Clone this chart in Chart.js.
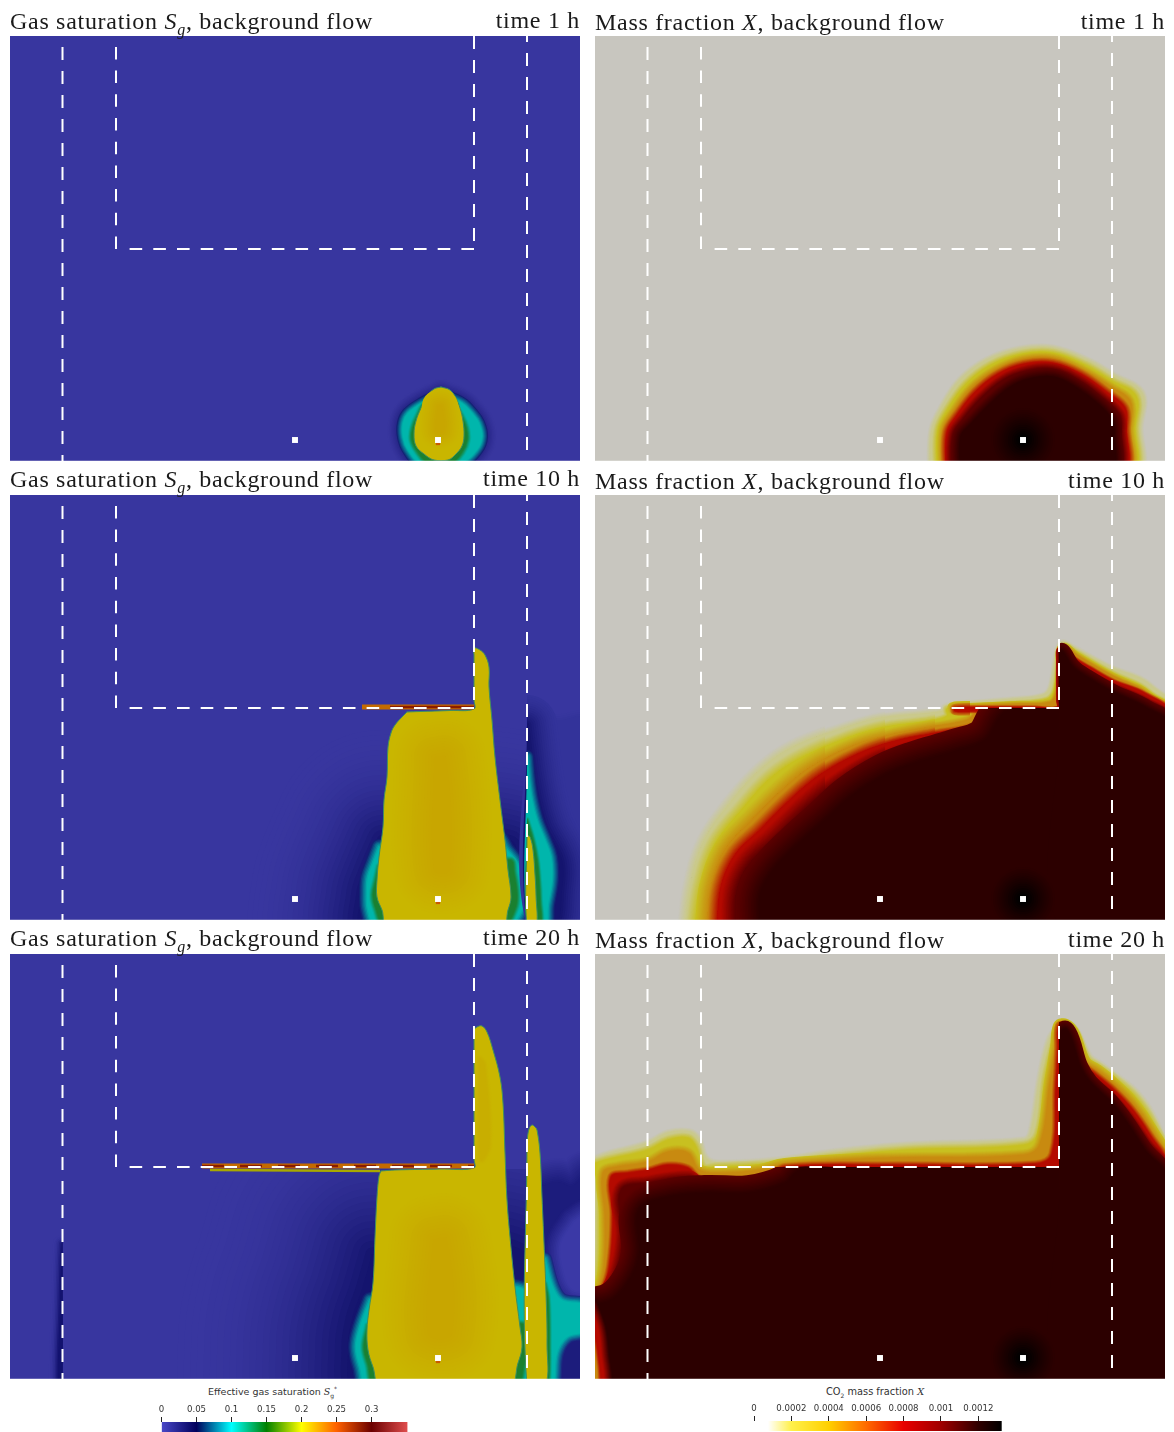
<!DOCTYPE html>
<html><head><meta charset="utf-8">
<script src="https://cdn.jsdelivr.net/npm/chart.js@4"></script>
<style>
html,body{margin:0;padding:0;background:#fff;width:1174px;height:1432px;overflow:hidden}
canvas{position:absolute;display:block}
.t{position:absolute;white-space:nowrap;font-family:"Liberation Serif",serif;font-size:24px;line-height:28px;color:#1a1a1a;letter-spacing:.7px}
.t sub{font-size:16px;line-height:0;font-style:italic}
.c{position:absolute;white-space:nowrap;font-family:"DejaVu Sans",sans-serif;line-height:12px;color:#333;text-align:center}
.c i{font-family:"DejaVu Serif",serif}
.c sub,.c sup{font-size:6px;line-height:0}
</style></head><body>
<canvas id="s1" width="570" height="425" style="left:10px;top:36px"></canvas>
<canvas id="m1" width="570" height="425" style="left:595px;top:36px"></canvas>
<canvas id="s10" width="570" height="425" style="left:10px;top:495px"></canvas>
<canvas id="m10" width="570" height="425" style="left:595px;top:495px"></canvas>
<canvas id="s20" width="570" height="425" style="left:10px;top:954px"></canvas>
<canvas id="m20" width="570" height="425" style="left:595px;top:954px"></canvas>
<canvas id="cbS" width="400" height="32" style="left:100px;top:1400px"></canvas>
<canvas id="cbM" width="400" height="32" style="left:700px;top:1399px"></canvas>
<div class="c" style="left:208px;top:1386px;font-size:9.5px">Effective gas saturation <i>S</i><sub>g</sub><sup>*</sup></div>
<div class="c" style="left:826px;top:1386px;font-size:9.8px">CO<sub>2</sub> mass fraction <i>X</i></div>
<script>
// ---- titles
const times = ['time 1 h','time 10 h','time 20 h'];
const satTitleTops = [7,465,924];
const massTitleTops = [8,467,926];
// ---- barriers and wells (x along the domain, y depth from top of panel)
const dashFull1 = [[52.5,11],[52.5,425]];
const dashFull2 = [[517,-7],[517,425]];
const dashBoxLeft = [[106,213],[106,0]];
const dashBoxRight = [[464,0],[464,213]];
const dashBoxBottom = [[464,213],[118,213]];
const wells = [[285,404],[428,404]];
const injector = [[428,404]];
const injectorMark = [[428,407]];
// ---- gas saturation, 1 h
const s1Halo = [[431,358],[452,367],[462,377],[469,387],[472,401],[467,414],[452,426],[410,426],[398,414],[393,401],[393,387],[398,377],[412,367]];
const s1Green = [[443,368],[451,380],[456,392],[457,404],[452,416],[442,426],[418,426],[408,416],[402,404],[403,392],[408,380],[416,368]];
const s1Plume = [[431,351],[440,354],[446,362],[450,372],[453,385],[454,400],[452,410],[446,418],[438,424],[424,424],[414,418],[406,410],[404,398],[406,385],[411,372],[417,360],[424,353]];
const s1Core = [[428,370],[432,370],[434,395],[426,395]];
// ---- gas saturation, 10 h
const s10Broad = [[372,345],[357,380],[351,400],[353,432],[500,432],[505,380],[500,345]];
const s10Halo = [[369,352],[363,368],[358,382],[357,398],[358,415],[365,428],[500,428],[512,415],[515,398],[513,382],[507,368],[497,355],[485,340]];
const s10Green = [[369,372],[366,385],[363,400],[366,414],[374,428],[495,428],[505,414],[507,400],[504,378],[500,365]];
const s10Plume = [[397,217],[393,221],[385,230],[381,238],[378,252],[377,282],[374,305],[373,332],[369,362],[367,385],[367,402],[372,415],[378,432],[492,432],[498,415],[501,402],[498,375],[495,345],[490,305],[485,262],[482,225],[479,192],[479,172],[475,160],[470,155],[464,153],[464,160],[464,205],[464,214],[440,215.5],[410,216.5]];
const s10Core = [[424,262],[436,262],[440,375],[424,375]];
const s10Lamina = [[352,212],[464,212]];
const s10LaminaDark = [[380,212],[464,212]];
const s10RightFaint = [[517,212],[545,225],[576,225],[576,432],[517,432]];
const s10RightNavy = [[517,230],[525,290],[535,330],[552,365],[552,395],[545,432],[517,432]];
const s10RightHalo = [[517,262],[519,285],[522,305],[527,325],[535,345],[541,362],[542,385],[538,410],[535,432],[517,432]];
const s10RightGreen = [[517,325],[523,345],[527,365],[529,385],[530,405],[530,432],[517,432]];
const s10RightPlume = [[517,340],[520,342],[523,355],[525,380],[526,400],[526,432],[517,432]];
// ---- gas saturation, 20 h
const s20Broad = [[362,300],[352,335],[342,365],[338,395],[345,432],[517,432],[517,300]];
const s20Halo = [[360,346],[350,373],[346,393],[350,413],[358,432],[520,432],[520,345],[505,333]];
const s20Green = [[358,372],[354,393],[358,410],[366,432],[505,432],[514,410],[516,393],[513,370]];
const s20Plume = [[371,217],[369,222],[367,243],[365,283],[363,329],[359,356],[357,376],[358,396],[363,413],[371,432],[499,432],[508,409],[512,393],[510,373],[505,333],[500,283],[497,246],[495,199],[493,149],[490,123],[483,96],[477,78],[472,72],[467,73],[464,76],[464,85],[464,205],[464,214],[430,215],[385,216]];
const s20Core = [[423,285],[437,285],[442,380],[418,380]];
const s20Finger = [[470,105],[474,110],[479,190],[471,205]];
const s20Lamina = [[192,212],[464,212]];
const s20LaminaFringe = [[200,216],[370,217]];
const s20RightNavy = [[532,232],[548,228],[562,232],[576,222],[576,432],[535,432],[537,380],[534,290]];
const s20RightHole = [[564,268],[576,262],[576,335],[562,335],[553,315],[551,290]];
const s20RightHalo = [[535,305],[543,333],[552,346],[576,352],[576,376],[557,383],[547,399],[543,432],[535,432]];
const s20RightGreen = [[535,330],[538,345],[539,390],[538,432],[535,432]];
const s20RightPlume = [[517,187],[519,175],[522,171],[525,173],[527,176],[530,199],[532,243],[534,289],[536,339],[537,389],[535,432],[517,432]];
const s20LeftShade = [[52,290],[52,432],[48,432],[50,350],[51,310]];
// ---- mass fraction contours (outer pale to inner core)
const m1A = [[335,432],[337,394],[347,371],[365,344],[392,324],[425,313],[458,312],[492,324],[518,339],[547,357],[545,391],[542,432]];
const m1B = [[342,432],[343,394],[353,373],[371,348],[396,329],[427,318],[458,317],[490,329],[517,345],[541,360],[540,391],[537,432]];
const m1C = [[347,432],[348,394],[358,376],[376,352],[400,334],[428,323],[458,322],[488,334],[516,351],[535,365],[535,392],[532,432]];
const m1D = [[351,432],[352,396],[362,379],[380,356],[403,338],[429,328],[458,327],[486,338],[513,357],[530,372],[531,392],[528,432]];
const m1E = [[356,432],[358,398],[368,383],[386,362],[408,344],[431,335],[458,333],[484,344],[508,362],[524,378],[526,394],[522,432]];
const m1F = [[365,432],[366,400],[376,388],[393,370],[414,352],[434,343],[458,341],[480,351],[503,368],[517,384],[519,398],[515,432]];
const m10A = [[90,432],[95,392],[108,348],[135,308],[165,275],[198,252],[252,232],[285,223],[335,218],[350,215],[350,212],[362,209],[418,204],[448,200],[455,192],[460,165],[463,152],[468,147],[478,152],[518,173],[545,183],[558,192],[576,211],[576,432]];
const m10B = [[100,432],[106,392],[120,350],[146,316],[176,283],[208,262],[255,242],[290,232],[335,226],[352,221],[352,214],[365,212],[418,208],[452,204],[459,195],[463,165],[464,155],[470,150],[480,156],[518,178],[545,190],[556,198],[576,215],[576,432]];
const m10C = [[112,432],[116,392],[130,355],[156,326],[186,296],[216,272],[260,250],[295,240],[335,232],[372,225],[378,218],[358,215],[358,212],[375,211],[420,209],[455,207],[461,198],[464,175],[464,155],[470,151],[482,160],[518,181],[545,193],[555,200],[576,217],[576,432]];
const m10D = [[122,432],[126,392],[140,360],[165,335],[195,305],[225,280],[265,258],[300,246],[340,238],[380,230],[388,218],[360,216],[360,213],[390,212],[440,212],[464,212],[464,200],[464,160],[466,151],[480,163],[495,172],[518,185],[550,198],[576,220],[576,432]];
const m10E = [[140,432],[142,395],[155,368],[180,345],[210,315],[240,290],[275,268],[305,256],[345,246],[385,238],[398,218],[430,215],[464,214],[464,205],[464,165],[465,155],[478,166],[492,176],[518,190],[552,205],[576,224],[576,432]];
const m10Flow = [[165,432],[165,400],[178,375],[200,352],[230,325],[255,302],[290,280],[320,268],[360,256],[390,245],[405,222],[415,214],[440,214],[460,214],[469,214],[470,216],[470,240],[470,432]];
const m10Fup = [[464.5,230],[464.5,175],[464.5,162],[467,156],[478,172],[492,182],[518,197],[552,213],[576,232],[576,432],[464.5,432]];
const m20A = [[-5,345],[1,320],[2,270],[1,225],[-5,208],[53,189],[73,179],[95,178],[104,186],[110,203],[121,209],[183,206],[238,198],[311,191],[429,186],[436,178],[445,123],[454,86],[463,73],[471,69],[480,75],[495,103],[505,110],[517,119],[542,139],[560,166],[572,203],[576,432],[-5,432]];
const m20B = [[-5,346],[3,320],[5,270],[3,225],[-5,212],[53,196],[73,186],[93,184],[101,193],[108,213],[121,213],[183,210],[238,203],[311,196],[429,191],[443,180],[451,123],[459,89],[464,72],[471,70],[480,78],[492,105],[503,113],[517,123],[540,143],[558,170],[572,206],[576,432],[-5,432]];
const m20C = [[-5,348],[6,330],[10,300],[10,260],[8,219],[22,213],[53,208],[73,198],[93,199],[104,216],[125,219],[165,216],[190,210],[293,204],[429,201],[445,190],[455,129],[461,93],[464,72],[471,71],[479,80],[490,108],[502,116],[517,128],[538,149],[556,175],[572,209],[576,432],[-5,432]];
const m20D = [[-5,350],[10,330],[16,300],[18,260],[16,223],[33,219],[53,216],[73,211],[93,214],[104,224],[139,228],[172,223],[190,213],[293,211],[440,210],[457,200],[461,133],[463,95],[464,72],[471,72],[478,82],[488,110],[500,120],[517,134],[537,155],[555,181],[572,212],[576,432],[-5,432]];
const m20Elow = [[-5,351],[14,335],[24,310],[28,280],[26,236],[53,229],[93,224],[104,231],[139,234],[172,229],[194,214],[250,213],[300,213],[450,213],[468,213],[470,216],[470,240],[470,432],[-5,432]];
const m20Eup = [[464.5,230],[464.5,100],[464.5,80],[466,73],[471,73],[478,84],[487,112],[497,124],[517,141],[535,162],[553,188],[572,216],[576,432],[464.5,432]];
const m20Flow = [[-5,352],[18,345],[35,325],[44,300],[44,256],[73,243],[110,239],[154,239],[190,229],[205,216],[250,214],[300,214],[450,214],[468,214],[470,217],[470,240],[470,432],[-5,432]];
const m20Fup = [[464.5,230],[464.5,100],[464.5,84],[466,77],[471,75],[477,86],[485,112],[495,128],[517,149],[533,170],[550,196],[572,224],[576,432],[464.5,432]];
const m20StripRed = [[-5,352],[3,375],[6,400],[8,432],[-5,432]];
const m20StripOrange = [[-5,372],[0,400],[2,432],[-5,432]];
// ---- colour bars
const satTicks = [0,0.05,0.1,0.15,0.2,0.25,0.3];
const satRange = [0,0.3514];
const satStops = [0,0.05,0.1,0.15,0.2,0.25,0.3,0.3514];
const satStopColors = ['#4a48c8','#00005c','#00ffff','#008000','#ffff00','#ff6100','#6b0000','#e04d4d'];
const massTicks = [0,0.0002,0.0004,0.0006,0.0008,0.001,0.0012];
const massRange = [0.000075,0.001325];
const massStops = [0.000075,0.0002,0.0004,0.0006,0.0008,0.001,0.0012,0.001325];
const massStopColors = ['#ffffff','#fff04a','#ffd000','#ff6a00','#e80000','#a00000','#300000','#000000'];
// ---- palette
const BG='#38369f',NAVY='#14146e',TEAL='#00b6ac',GREEN='#1a8030',PLUME='#c9b600',PCORE='#c8a600',FRINGE='#3f9060';
const GRAY='#c8c6bf',levelColors=['#cac98c','#c8c020','#c88a10','#b40a00','#5c0000','#2c0000'];
const EDGE='rgba(255,255,255,.25)';

const W=570,H=425;
const hex=c=>[1,3,5].map(i=>parseInt(c.substr(i,2),16));
const mix=(a,b,t)=>{const A=hex(a),B=hex(b);return 'rgb('+A.map((v,i)=>Math.round(v+(B[i]-v)*t)).join(',')+')';};
const pts=p=>p.map(([x,y])=>({x,y}));
const closed=p=>pts(p.concat([p[0]]));
const clipOf=o=>o?{left:-(o.x0||0),right:-(W-(o.x1===undefined?W:o.x1)),top:-(o.y0||0),bottom:0}:0;
const base=(p,o)=>Object.assign({type:'scatter',data:closed(p),showLine:true,pointRadius:0,tension:.38,borderJoinStyle:'round',borderCapStyle:'round',fill:false,borderWidth:0,clip:clipOf(o&&o.clip)},o&&o.extra);
// one contour: soft strokes outward blending from -> to, then the filled contour
function band(p,from,to,width,steps,o){
  o=o||{};const out=[];const g=o.gamma||1;
  if(width>0)for(let i=0;i<steps;i++){const f=i/steps;
    out.push(base(p,{clip:o.clip,extra:{borderColor:mix(from,to,Math.pow((i+.5)/steps,g)),borderWidth:2*width*(1-f)}}));}
  out.push(base(p,{clip:o.clip,extra:{fill:'shape',backgroundColor:o.fillColor||to,borderWidth:o.edge||0,borderColor:o.edgeColor||to}}));
  return out;
}
const plume=(p)=>band(p,PLUME,PLUME,0,0,{edge:1,edgeColor:FRINGE});
const line=(p,color,w,dash)=>({type:'scatter',data:pts(p),showLine:true,pointRadius:0,borderColor:color,borderWidth:w,borderDash:dash||[],fill:false,clip:0,borderCapStyle:'butt'});
const dots=(p,color,r,style)=>({type:'scatter',data:pts(p),showLine:false,pointRadius:r,pointBorderWidth:0,pointBackgroundColor:color,pointStyle:style||'circle',clip:0});
function overlay(){return [
  line([[0,424.6],[570,424.6]],EDGE,1),
  line(dashFull1,'#ffffff',2,[13,11]),line(dashFull2,'#ffffff',2,[13,11]),
  line(dashBoxLeft,'#ffffff',2,[12.5,11.2]),line(dashBoxRight,'#ffffff',2,[13,11]),
  line(dashBoxBottom,'#ffffff',2,[12.6,11.1]),
  dots(wells,'#ffffff',4.2,'rect')];}
function draw(id,layers){
  new Chart(document.getElementById(id),{type:'scatter',data:{datasets:layers.slice().reverse()},
    options:{responsive:false,animation:false,devicePixelRatio:1,events:[],layout:{padding:0,autoPadding:false},
      plugins:{legend:{display:false},tooltip:{enabled:false},title:{display:false}},
      scales:{x:{type:'linear',min:0,max:W,display:false},y:{type:'linear',min:0,max:H,reverse:true,display:false}}}});
}
const rect=[[-5,-5],[576,-5],[576,432],[-5,432]];
const bg=c=>base(rect,{extra:{fill:'shape',backgroundColor:c,tension:0}});
function massStack(levels,widths){
  let out=[],prev=GRAY;
  levels.forEach((p,i)=>{out=out.concat(band(p,prev,levelColors[i],widths[i],12));prev=levelColors[i];});
  return out;
}
// band softness narrows along the front, from the open left flank to the barrier
const m10Zones = [[0,230,[8,10,12,10,14]],[230,290,[6,8,9,8,10]],[290,340,[5,6,7,6,7]],[340,375,[4,4,5,4,5]],[375,570,[3,3,3,2,3]]];
function massStackZones(levels,zones){
  let out=[],prev=GRAY;
  levels.forEach((p,i)=>{
    zones.forEach(([x0,x1,w])=>{out=out.concat(band(p,prev,levelColors[i],w[i],Math.max(5,Math.round(w[i]*1.2)),{clip:{x0,x1}}));});
    prev=levelColors[i];});
  return out;
}
function sourceGlow(){
  const out=[];const n=14;
  for(let i=0;i<n;i++){out.push(dots(injector,mix('#2c0000','#000000',Math.pow((i+1)/n,1.3)),32-i*2.1));}
  return out;
}
// ---------- saturation panels
draw('s1',[bg(BG),
 ...band(s1Halo,BG,NAVY,15,12,{gamma:1.4,fillColor:TEAL}).slice(0,-1),
 ...band(s1Halo,NAVY,TEAL,6,6),
 ...band(s1Green,TEAL,GREEN,4,4),
 ...plume(s1Plume),
 ...band(s1Core,PLUME,PCORE,16,8),
 dots(injectorMark,'#c85a00',3,'rect'),...overlay()]);
draw('s10',[bg(BG),
 ...band(s10Broad,BG,NAVY,110,22,{gamma:2.4,clip:{x1:517,y0:215}}),
 ...band(s10Halo,NAVY,TEAL,8,6,{clip:{x1:517}}),
 ...band(s10Green,TEAL,GREEN,4,4,{clip:{x1:517}}),
 ...plume(s10Plume),
 ...band(s10Core,PLUME,PCORE,40,14),
 line(s10Lamina,'#c46a00',5),line(s10LaminaDark,'#8a1c00',2.4),
 ...band(s10RightFaint,BG,'#33339a',6,3,{clip:{x0:517}}),
 ...band(s10RightNavy,'#33339a',NAVY,30,14,{gamma:1.6,clip:{x0:517}}),
 ...band(s10RightHalo,NAVY,TEAL,7,6,{clip:{x0:517}}),
 ...band(s10RightGreen,TEAL,GREEN,3,3,{clip:{x0:517}}),
 ...plume(s10RightPlume),
 dots(injectorMark,'#c85a00',3,'rect'),...overlay()]);
draw('s20',[bg(BG),
 ...band(s20LeftShade,BG,'#12126e',9,6,{gamma:2.2,clip:{x1:53}}),
 ...band(s20Broad,BG,NAVY,170,26,{gamma:2.4,clip:{x1:517,y0:215}}),
 ...band(s20Halo,NAVY,TEAL,8,6,{clip:{x1:517}}),
 ...band(s20Green,TEAL,GREEN,4,4,{clip:{x1:517}}),
 ...plume(s20Plume),
 ...band(s20Core,PLUME,PCORE,44,14),
 ...band(s20Finger,PLUME,'#c8ae00',4,4),
 line(s20LaminaFringe,'#a8a800',2.4),
 line(s20Lamina,'#c46a00',5),line(s20Lamina,'#8a1c00',2.4,[22,16]),
 ...band(s20RightNavy,BG,'#1c1c7c',24,14,{clip:{x0:517}}),
 ...band(s20RightHole,'#1c1c7c','#3b39a6',16,10,{clip:{x0:517}}),
 ...band(s20RightHalo,'#1c1c7c',TEAL,7,6,{clip:{x0:517}}),
 ...band(s20RightGreen,TEAL,GREEN,3,3,{clip:{x0:517}}),
 ...plume(s20RightPlume),
 dots(injectorMark,'#c85a00',3,'rect'),...overlay()]);
// ---------- mass panels
draw('m1',[bg(GRAY),...massStack([m1A,m1B,m1C,m1D,m1E,m1F],[4,5,5,5,6,8]),...sourceGlow(),...overlay()]);
const corePair=(lo,up,w)=>[...band(lo,levelColors[4],levelColors[5],w,14,{clip:{y0:213}}),...band(up,levelColors[4],levelColors[5],w>8?8:w,8,{clip:{x0:464}})];
draw('m10',[bg(GRAY),...massStackZones([m10A,m10B,m10C,m10D,m10E],m10Zones),...corePair(m10Flow,m10Fup,22),...sourceGlow(),...overlay()]);
draw('m20',[bg(GRAY),...massStack([m20A,m20B,m20C,m20D],[4,5,6,4]),
 ...band(m20Elow,levelColors[3],levelColors[4],8,10,{clip:{y0:213}}),
 ...band(m20Eup,levelColors[3],levelColors[4],4,6,{clip:{x0:464}}),
 ...corePair(m20Flow,m20Fup,18),
 ...band(m20StripRed,levelColors[5],levelColors[3],8,8),
 ...band(m20StripOrange,levelColors[3],levelColors[2],3,3),
 ...sourceGlow(),...overlay()]);
// ---------- colour bars
function colorbar(id,ticks,range,stops,colors,axisMax,padL,padR){
  new Chart(document.getElementById(id),{type:'bar',
    data:{labels:['bar'],datasets:[{data:[range],barPercentage:1,categoryPercentage:1,borderWidth:0,
      backgroundColor(c){const ch=c.chart,a=ch.chartArea,x=ch.scales.x;if(!a||!x)return colors[0];
        const x0=x.getPixelForValue(range[0]),x1=x.getPixelForValue(range[1]);
        const g=ch.ctx.createLinearGradient(x0,0,x1,0);
        stops.forEach((s,i)=>g.addColorStop((s-range[0])/(range[1]-range[0]),colors[i]));return g;}}]},
    options:{indexAxis:'y',responsive:false,animation:false,devicePixelRatio:1,events:[],
      layout:{padding:{left:padL,right:padR,top:0,bottom:0}},
      plugins:{legend:{display:false},tooltip:{enabled:false}},
      scales:{y:{display:false},
        x:{type:'linear',position:'top',min:0,max:axisMax,
          border:{display:false},
          grid:{drawOnChartArea:false,drawTicks:true,tickLength:5,color:'#222',tickColor:'#222',tickWidth:1},
          afterBuildTicks(s){s.ticks=ticks.map(v=>({value:v}));},
          afterFit(s){s.height=22;s.paddingLeft=0;s.paddingRight=0;},
          ticks:{autoSkip:false,maxRotation:0,padding:2,color:'#333',font:{family:'DejaVu Sans',size:8.6},callback:v=>String(v)}}}}});
}
colorbar('cbS',satTicks,satRange,satStops,satStopColors,0.3514,61.5,400-307.5);
colorbar('cbM',massTicks,massRange,massStops,massStopColors,0.001325,54,400-301.7);
// ---------- titles
times.forEach((t,i)=>{
  const add=(html,style)=>{const d=document.createElement('div');d.className='t';d.innerHTML=html;d.style.cssText=style;document.body.appendChild(d);};
  add('Gas saturation <i>S</i><sub>g</sub>, background flow',`left:10px;top:${satTitleTops[i]}px`);
  add(t,`right:${1174-580}px;top:${satTitleTops[i]-1}px`);
  add('Mass fraction <i>X</i>, background flow',`left:595px;top:${massTitleTops[i]}px`);
  add(t,`right:${1174-1165}px;top:${massTitleTops[i]-1}px`);
});
</script>
</body></html>
